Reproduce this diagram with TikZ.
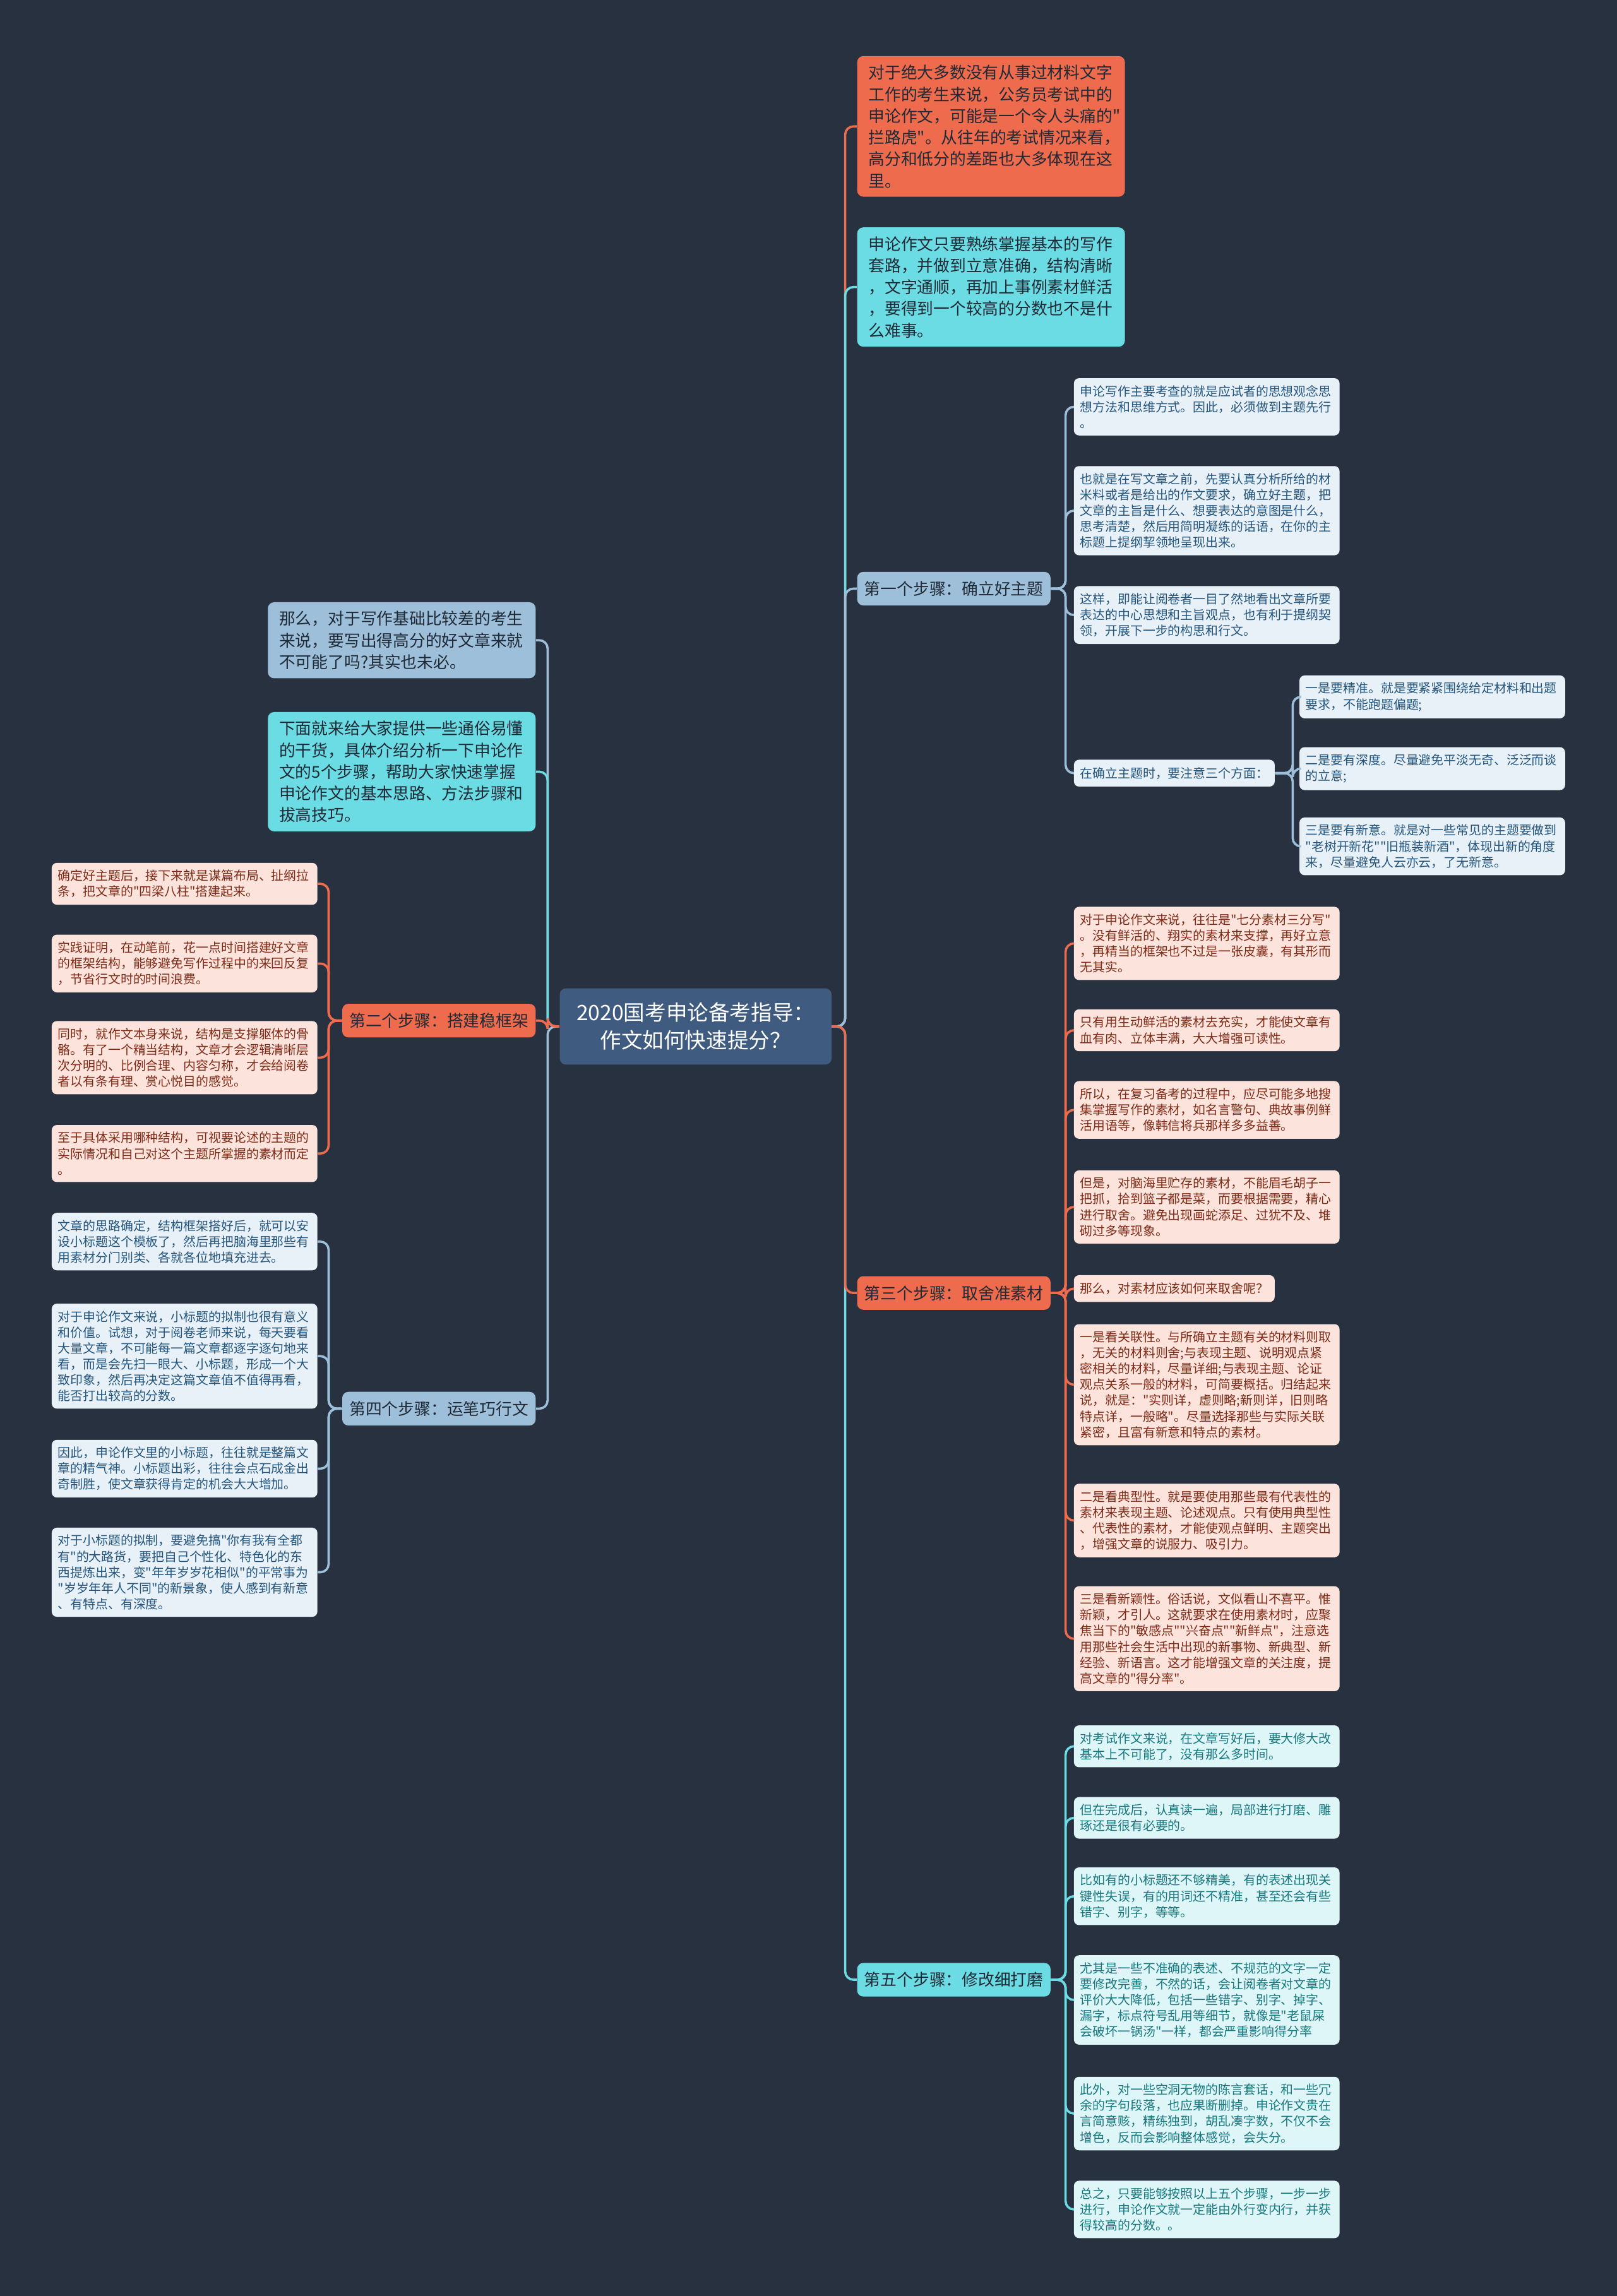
\documentclass[tikz,border=0pt]{standalone}
\usepackage{fontspec}
\setmainfont{Noto Sans CJK SC}[Ligatures=TeXOff]
\usetikzlibrary{calc}
\definecolor{Night}{HTML}{283140}
\definecolor{Coral}{HTML}{EE6B4D}
\definecolor{Aqua}{HTML}{6BDCE3}
\definecolor{Steel}{HTML}{9DBFDA}
\definecolor{Navy}{HTML}{3F5C80}
\definecolor{MistBlue}{HTML}{E8F1F8}
\definecolor{Blush}{HTML}{FCE4DC}
\definecolor{IceAqua}{HTML}{DFF6F8}
\definecolor{InkBlue}{HTML}{24557D}
\definecolor{InkRed}{HTML}{7E2A17}
\definecolor{InkTeal}{HTML}{16787E}
\definecolor{InkDark}{HTML}{1F2A36}

\begin{document}
\begin{tikzpicture}[x=0.025cm,y=-0.025cm,
    bigbox/.style={rounded corners=3pt,anchor=north west,align=left,text width=119pt,inner xsep=5.5pt,inner ysep=4.3pt,font=\fontsize{7.9}{10.5}\selectfont,text=InkDark},
    leaf/.style={rounded corners=2.5pt,anchor=north west,align=left,text width=123pt,inner xsep=3pt,inner ysep=3.4pt,font=\fontsize{6.1}{7.7}\selectfont},
    tagbox/.style={rounded corners=2.5pt,anchor=west,inner xsep=3pt,inner ysep=3.6pt,font=\fontsize{6.1}{7.7}\selectfont},
    stepbox/.style={rounded corners=3pt,inner xsep=3.5pt,inner ysep=4.5pt,font=\fontsize{7.9}{9}\selectfont,text=InkDark},
    blueleaf/.style={fill=MistBlue,text=InkBlue},
    redleaf/.style={fill=Blush,text=InkRed},
    tealleaf/.style={fill=IceAqua,text=InkTeal},
    link/.style={line width=1.1pt,rounded corners=4pt}]
    \fill[Night] (0,0) rectangle (1104,1568);
    \useasboundingbox (0,0) rectangle (1104,1568);

    % root
    \node[fill=Navy,text=white,rounded corners=3pt,align=center,minimum width=132pt,minimum height=37pt,font=\fontsize{10.3}{13.5}\selectfont] (root) at (475,701) {2020国考申论备考指导：\\作文如何快速提分？};

    % right side, top
    \node[bigbox,fill=Coral] (t1) at (585,38) {对于绝大多数没有从事过材料文字\\工作的考生来说，公务员考试中的\\申论作文，可能是一个令人头痛的"\\拦路虎"。从往年的考试情况来看，\\高分和低分的差距也大多体现在这\\里。};
    \node[bigbox,fill=Aqua] (t2) at (585,155) {申论作文只要熟练掌握基本的写作\\套路，并做到立意准确，结构清晰\\，文字通顺，再加上事例素材鲜活\\，要得到一个较高的分数也不是什\\么难事。};

    % left side, top
    \node[bigbox,fill=Steel,anchor=north east] (lq) at (366,411) {那么，对于写作基础比较差的考生\\来说，要写出得高分的好文章来就\\不可能了吗?其实也未必。};
    \node[bigbox,fill=Aqua,anchor=north east] (lg) at (366,486) {下面就来给大家提供一些通俗易懂\\的干货，具体介绍分析一下申论作\\文的5个步骤，帮助大家快速掌握\\申论作文的基本思路、方法步骤和\\拔高技巧。};

    % steps
    \node[stepbox,fill=Steel,anchor=west] (s1) at (585,402) {第一个步骤：确立好主题};
    \node[stepbox,fill=Coral,anchor=east] (s2) at (366,697) {第二个步骤：搭建稳框架};
    \node[stepbox,fill=Coral,anchor=west] (s3) at (585,883) {第三个步骤：取舍准素材};
    \node[stepbox,fill=Steel,anchor=east] (s4) at (366,962) {第四个步骤：运笔巧行文};
    \node[stepbox,fill=Aqua,anchor=west] (s5) at (585,1352) {第五个步骤：修改细打磨};

    % step 1
    \node[leaf,blueleaf] (a1) at (733,258) {申论写作主要考查的就是应试者的思想观念思\\想方法和思维方式。因此，必须做到主题先行\\。};
    \node[leaf,blueleaf] (a2) at (733,318) {也就是在写文章之前，先要认真分析所给的材\\米料或者是给出的作文要求，确立好主题，把\\文章的主旨是什么、想要表达的意图是什么，\\思考清楚，然后用简明凝练的话语，在你的主\\标题上提纲挈领地呈现出来。};
    \node[leaf,blueleaf] (a3) at (733,400) {这样，即能让阅卷者一目了然地看出文章所要\\表达的中心思想和主旨观点，也有利于提纲契\\领，开展下一步的构思和行文。};
    \node[tagbox,blueleaf] (a4) at (733,528) {在确立主题时，要注意三个方面：};
    \node[leaf,blueleaf] (a41) at (887,461) {一是要精准。就是要紧紧围绕给定材料和出题\\要求，不能跑题偏题;};
    \node[leaf,blueleaf] (a42) at (887,510) {二是要有深度。尽量避免平淡无奇、泛泛而谈\\的立意;};
    \node[leaf,blueleaf] (a43) at (887,558) {三是要有新意。就是对一些常见的主题要做到\\"老树开新花""旧瓶装新酒"，体现出新的角度\\来，尽量避免人云亦云，了无新意。};

    % step 2
    \node[leaf,redleaf,anchor=north east] (b1) at (217,589) {确定好主题后，接下来就是谋篇布局、扯纲拉\\条，把文章的"四梁八柱"搭建起来。};
    \node[leaf,redleaf,anchor=north east] (b2) at (217,638) {实践证明，在动笔前，花一点时间搭建好文章\\的框架结构，能够避免写作过程中的来回反复\\，节省行文时的时间浪费。};
    \node[leaf,redleaf,anchor=north east] (b3) at (217,697) {同时，就作文本身来说，结构是支撑躯体的骨\\骼。有了一个精当结构，文章才会逻辑清晰层\\次分明的、比例合理、内容匀称，才会给阅卷\\者以有条有理、赏心悦目的感觉。};
    \node[leaf,redleaf,anchor=north east] (b4) at (217,768) {至于具体采用哪种结构，可视要论述的主题的\\实际情况和自己对这个主题所掌握的素材而定\\。};

    % step 3
    \node[leaf,redleaf] (c1) at (733,619) {对于申论作文来说，往往是"七分素材三分写"\\。没有鲜活的、翔实的素材来支撑，再好立意\\，再精当的框架也不过是一张皮囊，有其形而\\无其实。};
    \node[leaf,redleaf] (c2) at (733,689) {只有用生动鲜活的素材去充实，才能使文章有\\血有肉、立体丰满，大大增强可读性。};
    \node[leaf,redleaf] (c3) at (733,738) {所以，在复习备考的过程中，应尽可能多地搜\\集掌握写作的素材，如名言警句、典故事例鲜\\活用语等，像韩信将兵那样多多益善。};
    \node[leaf,redleaf] (c4) at (733,799) {但是，对脑海里贮存的素材，不能眉毛胡子一\\把抓，拾到篮子都是菜，而要根据需要，精心\\进行取舍。避免出现画蛇添足、过犹不及、堆\\砌过多等现象。};
    \node[tagbox,redleaf] (c5) at (733,880) {那么，对素材应该如何来取舍呢？};
    \node[leaf,redleaf] (c6) at (733,904) {一是看关联性。与所确立主题有关的材料则取\\，无关的材料则舍;与表现主题、说明观点紧\\密相关的材料，尽量详细;与表现主题、论证\\观点关系一般的材料，可简要概括。归结起来\\说，就是："实则详，虚则略;新则详，旧则略\\特点详，一般略"。尽量选择那些与实际关联\\紧密，且富有新意和特点的素材。};
    \node[leaf,redleaf] (c7) at (733,1013) {二是看典型性。就是要使用那些最有代表性的\\素材来表现主题、论述观点。只有使用典型性\\、代表性的素材，才能使观点鲜明、主题突出\\，增强文章的说服力、吸引力。};
    \node[leaf,redleaf] (c8) at (733,1083) {三是看新颖性。俗话说，文似看山不喜平。惟\\新颖，才引人。这就要求在使用素材时，应聚\\焦当下的"敏感点""兴奋点""新鲜点"，注意选\\用那些社会生活中出现的新事物、新典型、新\\经验、新语言。这才能增强文章的关注度，提\\高文章的"得分率"。};

    % step 4
    \node[leaf,blueleaf,anchor=north east] (d1) at (217,828) {文章的思路确定，结构框架搭好后，就可以安\\设小标题这个模板了，然后再把脑海里那些有\\用素材分门别类、各就各位地填充进去。};
    \node[leaf,blueleaf,anchor=north east] (d2) at (217,890) {对于申论作文来说，小标题的拟制也很有意义\\和价值。试想，对于阅卷老师来说，每天要看\\大量文章，不可能每一篇文章都逐字逐句地来\\看，而是会先扫一眼大、小标题，形成一个大\\致印象，然后再决定这篇文章值不值得再看，\\能否打出较高的分数。};
    \node[leaf,blueleaf,anchor=north east] (d3) at (217,983) {因此，申论作文里的小标题，往往就是整篇文\\章的精气神。小标题出彩，往往会点石成金出\\奇制胜，使文章获得肯定的机会大大增加。};
    \node[leaf,blueleaf,anchor=north east] (d4) at (217,1043) {对于小标题的拟制，要避免搞"你有我有全都\\有"的大路货，要把自己个性化、特色化的东\\西提炼出来，变"年年岁岁花相似"的平常事为\\"岁岁年年人不同"的新景象，使人感到有新意\\、有特点、有深度。};

    % step 5
    \node[leaf,tealleaf] (e1) at (733,1178) {对考试作文来说，在文章写好后，要大修大改\\基本上不可能了，没有那么多时间。};
    \node[leaf,tealleaf] (e2) at (733,1227) {但在完成后，认真读一遍，局部进行打磨、雕\\琢还是很有必要的。};
    \node[leaf,tealleaf] (e3) at (733,1275) {比如有的小标题还不够精美，有的表述出现关\\键性失误，有的用词还不精准，甚至还会有些\\错字、别字，等等。};
    \node[leaf,tealleaf] (e4) at (733,1335) {尤其是一些不准确的表述、不规范的文字一定\\要修改完善，不然的话，会让阅卷者对文章的\\评价大大降低，包括一些错字、别字、掉字、\\漏字，标点符号乱用等细节，就像是"老鼠屎\\会破坏一锅汤"一样，都会严重影响得分率};
    \node[leaf,tealleaf] (e5) at (733,1418) {此外，对一些空洞无物的陈言套话，和一些冗\\余的字句段落，也应果断删掉。申论作文贵在\\言简意赅，精练独到，胡乱凑字数，不仅不会\\增色，反而会影响整体感觉，会失分。};
    \node[leaf,tealleaf] (e6) at (733,1489) {总之，只要能够按照以上五个步骤，一步一步\\进行，申论作文就一定能由外行变内行，并获\\得较高的分数。。};

    % links from root
    \draw[link,Coral] (root.east) -- ++(9,0) |- (t1.west);
    \draw[link,Aqua] (root.east) -- ++(9,0) |- (t2.west);
    \draw[link,Steel] (root.east) -- ++(9,0) |- (s1.west);
    \draw[link,Aqua] (root.east) -- ++(9,0) |- (s5.west);
    \draw[link,Coral] (root.east) -- ++(9,0) |- (s3.west);
    \draw[link,Steel] (root.west) -- ++(-8,0) |- (lq.east);
    \draw[link,Aqua] (root.west) -- ++(-8,0) |- (lg.east);
    \draw[link,Steel] (root.west) -- ++(-8,0) |- (s4.east);
    \draw[link,Coral] (root.west) -- ++(-8,0) |- (s2.east);

    % links to leaves
    \foreach \n in {a1,a2,a3,a4} \draw[link,Steel] (s1.east) -- ++(10,0) |- (\n.west);
    \foreach \n in {a41,a42,a43} \draw[link,Steel] (a4.east) -- ++(12,0) |- (\n.west);
    \foreach \n in {b1,b2,b3,b4} \draw[link,Coral] (s2.west) -- ++(-9,0) |- (\n.east);
    \foreach \n in {c1,c2,c3,c4,c5,c6,c7,c8} \draw[link,Coral] (s3.east) -- ++(10,0) |- (\n.west);
    \foreach \n in {d1,d2,d3,d4} \draw[link,Steel] (s4.west) -- ++(-9,0) |- (\n.east);
    \foreach \n in {e1,e2,e3,e4,e5,e6} \draw[link,Aqua] (s5.east) -- ++(10,0) |- (\n.west);
\end{tikzpicture}
\end{document}
